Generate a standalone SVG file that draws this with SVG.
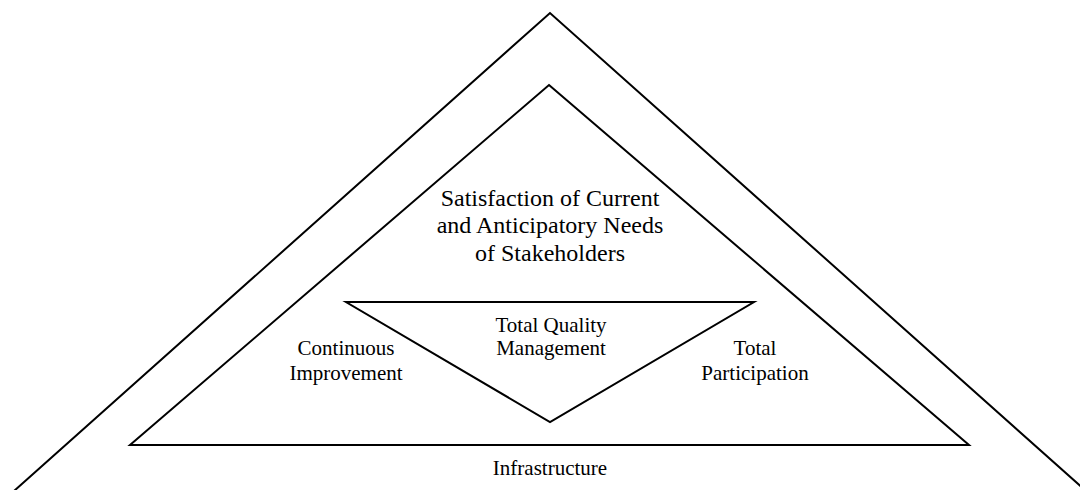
<svg xmlns="http://www.w3.org/2000/svg" width="1080" height="490" viewBox="0 0 1080 490">
<style>
.ln{fill:none;stroke:#000;stroke-width:2;stroke-linejoin:miter}
.t{font-family:"Liberation Serif","Times New Roman",serif;fill:#000;text-anchor:middle}
.big{font-size:24px}
.mid{font-size:21px}
</style>
<rect width="1080" height="490" fill="#fff"/>
<g id="outer">
<polyline class="ln" points="14,491 550,13 1086,491"/>
</g>
<g id="stakeholders">
<polygon class="ln" points="549,85 969,445 130,445"/>
<text class="t big" x="550" y="206">Satisfaction of Current</text>
<text class="t big" x="550" y="233">and Anticipatory Needs</text>
<text class="t big" x="550" y="261">of Stakeholders</text>
</g>
<g id="tqm">
<polygon class="ln" points="346,302 754,302 550,422"/>
<text class="t mid" x="551" y="332">Total Quality</text>
<text class="t mid" x="551" y="355">Management</text>
</g>
<g id="continuous">
<text class="t mid" x="346" y="355">Continuous</text>
<text class="t mid" x="346" y="380">Improvement</text>
</g>
<g id="participation">
<text class="t mid" x="755" y="355">Total</text>
<text class="t mid" x="755" y="380">Participation</text>
</g>
<g id="infrastructure">
<text class="t mid" x="550" y="475">Infrastructure</text>
</g>
<g id="connectors"></g>
</svg>
